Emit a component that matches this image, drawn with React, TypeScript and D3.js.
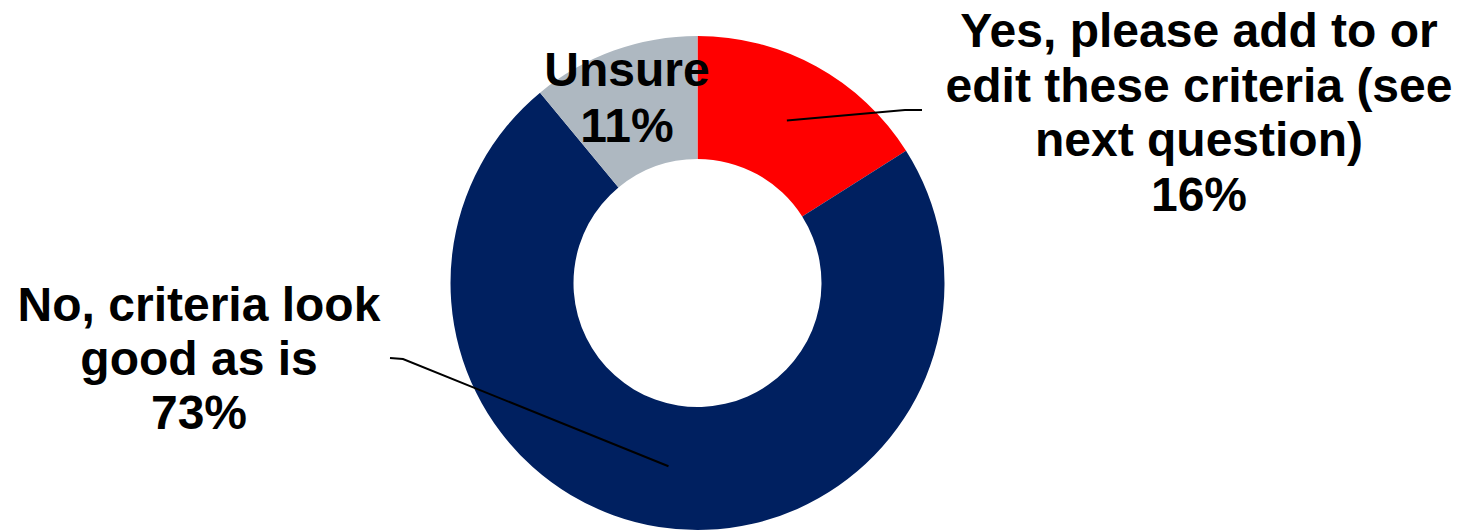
import React, { useEffect, useRef } from 'react';
import * as d3 from 'd3';

const categories = ['Yes, please add to or edit these criteria (see next question)', 'No, criteria look good as is', 'Unsure'];
const values = [16, 73, 11];
const colors = ['#FF0000', '#002060', '#AEB8C1'];

// label text lines per slice
const labelLines = [
  ['Yes, please add to or', 'edit these criteria (see', 'next question)', '16%'],
  ['No, criteria look', 'good as is', '73%'],
  ['Unsure', '11%'],
];

const width = 1459;
const height = 532;

export default function App() {
  const svgRef = useRef<SVGSVGElement>(null);

  useEffect(() => {
    if (!svgRef.current) return;
    const svg = d3.select(svgRef.current);
    svg.selectAll('*').remove();

    const cx = 697.5;
    const cy = 283;
    const outerR = 247;
    const innerR = 124;

    const pie = d3.pie<number>().sort(null).value(d => d);
    const arcs = pie(values);
    const arc = d3.arc<d3.PieArcDatum<number>>().innerRadius(innerR).outerRadius(outerR);

    const g = svg.append('g').attr('transform', `translate(${cx},${cy})`);

    g.selectAll('path')
      .data(arcs)
      .enter()
      .append('path')
      .attr('d', arc)
      .attr('fill', (_, i) => colors[i]);

    // label placement (text layout) and leader line elbows
    const labels = [
      { x: 1199, y: 47, lineH: 54.5, elbow: [905, 110], end: [922, 110] },
      { x: 199, y: 321, lineH: 54, elbow: [403, 359], end: [390, 358] },
      { x: 627, y: 86, lineH: 55.5, elbow: null, end: null },
    ];

    arcs.forEach((a, i) => {
      const lb = labels[i];
      if (lb.elbow && lb.end) {
        const [px, py] = arc.centroid(a);
        const pts: [number, number][] = [
          [cx + px, cy + py],
          lb.elbow as [number, number],
          lb.end as [number, number],
        ];
        svg.append('path')
          .attr('d', d3.line()(pts))
          .attr('fill', 'none')
          .attr('stroke', '#000')
          .attr('stroke-width', 2);
      }
      const t = svg.append('text')
        .attr('text-anchor', 'middle')
        .attr('font-family', 'Liberation Sans, Arial, sans-serif')
        .attr('font-weight', 'bold')
        .attr('font-size', 48)
        .attr('fill', '#000');
      labelLines[i].forEach((line, j) => {
        t.append('tspan')
          .attr('x', lb.x)
          .attr('y', lb.y + j * lb.lineH)
          .text(line);
      });
    });
  }, []);

  return (
    <svg
      ref={svgRef}
      width={width}
      height={height}
      style={{ position: 'absolute', left: 0, top: 0, background: '#fff' }}
      aria-label={categories.join(', ')}
    />
  );
}
